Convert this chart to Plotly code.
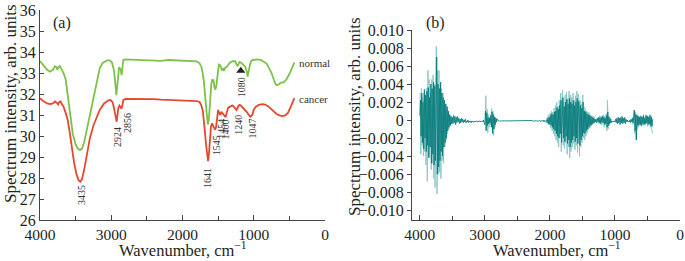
import plotly.graph_objects as go

# ---------------- Panel (a): FTIR spectra ----------------
normal_wn = [4000, 3950, 3900, 3860, 3820, 3790, 3770, 3755, 3740, 3720, 3700, 3690, 3670, 3640,
             3620, 3600, 3570, 3540, 3500, 3470, 3440, 3410, 3380, 3350, 3300, 3250, 3200, 3160,
             3120, 3060, 3020, 2990, 2960, 2940, 2928, 2918, 2905, 2890, 2875, 2865, 2856, 2845,
             2830, 2800, 2600, 2400, 2300, 2200, 2035, 1900, 1800, 1760, 1735, 1720, 1700, 1680,
             1660, 1645, 1630, 1610, 1595, 1580, 1565, 1550, 1540, 1525, 1505, 1490, 1475, 1460,
             1445, 1430, 1418, 1400, 1380, 1360, 1333, 1300, 1263, 1240, 1225, 1200, 1180, 1150,
             1120, 1100, 1085, 1070, 1050, 1030, 1000, 960, 900, 860, 820, 780, 750, 720, 690,
             670, 640, 610, 580, 540, 500, 460, 430]
normal_val = [33.57, 33.35, 33.15, 33.06, 33.15, 33.32, 33.28, 33.14, 33.28, 33.33, 33.2, 33.06,
              33.0, 32.7, 32.2, 31.6, 30.8, 30.1, 29.6, 29.4, 29.33, 29.4, 29.7, 30.2, 31.0, 31.7,
              32.6, 33.25, 33.48, 33.6, 33.6, 33.5, 33.1, 32.4, 31.95, 32.3, 33.0, 33.28, 33.2,
              33.15, 32.9, 33.2, 33.62, 33.65, 33.63, 33.62, 33.58, 33.62, 33.6, 33.58, 33.55,
              33.46, 33.3, 33.06, 32.6, 31.8, 31.0, 30.55, 30.8, 31.8, 32.5, 32.7, 32.65, 32.3,
              32.2, 32.4, 32.9, 33.4, 33.38, 33.2, 33.15, 33.2, 33.1, 33.25, 33.28, 33.38, 33.5,
              33.55, 33.57, 33.4, 33.35, 33.52, 33.5, 33.4, 33.3, 33.1, 32.83, 33.1, 33.45, 33.6,
              33.63, 33.65, 33.62, 33.55, 33.45, 33.2, 33.0, 32.7, 32.45, 32.42, 32.5, 32.55,
              32.55, 32.7, 32.95, 33.3, 33.5]

cancer_wn = [4000, 3950, 3900, 3860, 3820, 3790, 3770, 3745, 3730, 3710, 3690, 3670, 3640, 3610,
             3580, 3550, 3520, 3490, 3460, 3435, 3410, 3380, 3345, 3300, 3250, 3200, 3160, 3100,
             3040, 3010, 2980, 2960, 2940, 2924, 2912, 2900, 2885, 2870, 2856, 2845, 2830, 2800,
             2600, 2400, 2300, 2200, 2100, 2000, 1900, 1800, 1760, 1735, 1715, 1700, 1685, 1670,
             1655, 1641, 1628, 1615, 1600, 1585, 1570, 1555, 1545, 1530, 1515, 1500, 1485, 1470,
             1455, 1440, 1427, 1410, 1395, 1380, 1360, 1330, 1300, 1280, 1260, 1240, 1220, 1200,
             1180, 1160, 1130, 1100, 1070, 1047, 1020, 1000, 970, 930, 880, 840, 800, 760, 720,
             680, 640, 600, 560, 520, 480, 450, 430]
cancer_val = [31.8, 31.65, 31.55, 31.52, 31.55, 31.65, 31.6, 31.5, 31.62, 31.65, 31.5, 31.4, 31.1,
              30.75, 30.1, 29.3, 28.7, 28.2, 27.9, 27.83, 27.95, 28.4, 29.05, 29.9, 30.5, 30.95,
              31.25, 31.55, 31.7, 31.72, 31.6, 31.3, 31.0, 30.68, 31.0, 31.35, 31.45, 31.35, 31.3,
              31.45, 31.72, 31.77, 31.77, 31.76, 31.73, 31.72, 31.72, 31.70, 31.68, 31.66, 31.62,
              31.45, 31.2, 30.8, 30.2, 29.6, 29.05, 28.8, 29.2, 29.9, 30.45, 30.6, 30.5, 30.35,
              30.3, 30.4, 30.8, 31.24, 31.1, 31.0, 31.15, 31.1, 31.05, 30.95, 30.9, 31.1, 31.35,
              31.4, 31.45, 31.4, 31.3, 31.24, 31.4, 31.48, 31.45, 31.38, 31.3, 31.15, 31.0, 30.92,
              31.0, 31.25, 31.4, 31.48, 31.52, 31.5, 31.42, 31.3, 31.15, 31.05, 30.98, 30.95,
              30.98, 31.1, 31.4, 31.65, 31.8]

peak_labels = ["3435", "2924", "2856", "1641", "1545", "1454", "1400", "1240", "1047", "1080"]
peak_label_wn = [3425, 2915, 2774, 1647, 1520, 1464, 1399, 1226, 1020, 1179]
peak_label_y = [27.19, 29.97, 30.63, 27.98, 29.54, 30.33, 30.33, 30.52, 30.37, 32.32]
arrow_wn = [1182]
arrow_y = [33.11]

# ---------------- Panel (b): difference spectrum (units of 1e-3) ----------------
dark_start = 4000
dark_vals = [
    # 4000 - 3500
    0.5, 2.2, -1.8, 3.0, -2.5, 2.0, -3.2, 3.4, -2.0, 2.8, -3.5, 3.2, -2.8, 3.6, -4.2, 2.5, -3.0,
    4.0, -4.8, 3.5, -3.8, 4.2, -5.0, 3.8, -4.5, 5.0, 7.0, -6.0, 4.0, -5.2, 3.5, -4.5, 4.2, -3.5,
    3.0, -4.0, 2.5, -3.0, 2.2, -2.5, 1.8, -2.0, 1.5, -1.2, 1.0, -0.8, 0.6, -0.6, 0.4, -0.4, 0.3,
    # 3490 - 3010
    -0.4, 0.5, -0.3, 0.4, -0.5, 0.3, -0.3, 0.4, -0.2, 0.2, -0.4, 0.1, -0.3, 0.2, -0.2, 0.1, -0.3,
    0.0, -0.2, 0.1, -0.3, -0.1, -0.2, 0.0, -0.3, -0.1, -0.2, -0.1, -0.3, -0.1, -0.2, -0.15, -0.25,
    -0.1, -0.2, -0.15, -0.2, -0.1, -0.2, -0.15, -0.2, -0.1, -0.2, -0.1, -0.15, -0.1, -0.2, 0.0, -0.3,
    # 3000 - 2800
    -0.5, 1.0, -1.2, 0.8, -0.6, 0.3, -0.4, 0.2, -0.3, 0.5, -0.8, 0.9, -1.5, 0.6, -1.0, 0.3, -0.5,
    0.2, -0.2, 0.1, -0.1,
    # 2790 - 2060
    -0.1, -0.12, -0.08, -0.1, -0.11, -0.09, -0.1, -0.12, -0.1, -0.08,
    -0.1, -0.1, -0.12, -0.09, -0.1, -0.11, -0.1, -0.08, -0.1, -0.1,
    -0.12, -0.1, -0.09, -0.1, -0.1, -0.11, -0.1, -0.1, -0.09, -0.1,
    -0.1, -0.12, -0.1, -0.1, -0.08, -0.1, -0.1, -0.11, -0.1, -0.1,
    -0.1, -0.09, -0.1, -0.12, -0.1, -0.1, -0.1, -0.08, -0.1, -0.11,
    -0.1, -0.1, -0.05, -0.15, -0.1, -0.08, -0.12, -0.1, -0.05, -0.15,
    -0.1, -0.08, -0.12, -0.05, -0.15, -0.1, -0.05, -0.15, -0.1, 0.0,
    -0.2, -0.05, -0.15, 0.0,
    # 2050 - 1300
    0.0, -0.3, 0.2, -0.4, 0.3, -0.5, 0.5, -0.6, 0.7, -0.8, 0.6, -1.0, 0.9, -1.2, 1.0, -1.5, 1.4,
    -1.8, 1.2, -2.0, 1.6, -1.5, 2.2, -2.5, 1.8, 2.5, -2.0, 1.5, -2.4, 2.0, -1.8, 2.3, -2.6, 1.8,
    -2.2, 2.4, -3.0, 2.0, -2.5, 1.8, -2.2, 2.2, -1.8, 1.6, -2.4, 2.0, -2.0, 2.4, -2.6, 2.1, 1.8,
    -2.8, 1.6, -2.2, 1.3, -1.8, 2.0, -1.4, 1.0, -1.5, 0.9, -1.2, 0.7, -1.0, 0.6, -0.8, 0.5, -0.6,
    0.4, -0.5, 0.3, -0.4, 0.2, -0.3, 0.1, -0.2,
    # 1290 - 420
    0.1, -0.3, 0.2, -0.2, 0.3, -0.3, 0.2, -0.4, 0.3, -0.2, 0.4, -0.3, 0.3, -0.5, 0.2, -0.4, 0.5,
    -0.8, 0.9, -0.6, 0.3, -0.4, 0.1, -0.3, -0.1, -0.2, -0.1, -0.2, -0.1, -0.2, 0.1, -0.3, 0.2,
    -0.4, 0.3, -0.3, 0.2, -0.5, 0.3, -0.3, 0.4, -0.4, 0.2, -0.3, 0.3, -0.4, 0.1, -0.2, 0.0, -0.2,
    -0.1, -0.2, 0.0, -0.3, 0.1, -0.2, 0.2, -0.3, 0.8, 1.1, -1.2, 0.6, -2.2, 0.5, -0.6, 0.4, -0.5,
    0.3, -0.5, 0.4, -0.6, 0.3, -0.4, 0.5, -0.5, 0.2, -0.4, 0.5, -0.3, 0.4, -0.5, 0.3, -0.4, 0.5,
    -0.6, 0.3, -0.7, 0.1,
]

light_c1_start = 3995
light_c1 = [3.0, -3.8, 3.5, -2.8, 2.5, -4.0, 3.0, -3.5, 2.0, -5.0, 3.5, -6.8, 5.5, -4.0, 4.5,
            -3.0, 3.0, -5.5, 4.5, -4.8, 5.0, -6.5, 4.0, -7.5, 5.5, 8.2, -8.2, 5.5, -6.0, 5.5,
            -5.8, 4.0, -6.5, 3.5, -4.5, 3.0, -4.8, 2.0, -3.0, 1.5, -2.2, 1.2, -1.5, 0.8, -1.0,
            0.6, -0.5, 0.4, -0.3, 0.2]
light_c2_start = 2995
light_c2 = [0.5, 2.7, -1.0, 1.2, -1.4, 0.6, -0.8, 0.3, -0.5, 0.4, 1.3, -1.2, 1.0, -1.7, 0.5,
            -0.8, 0.3, -0.3, 0.1]
light_c3_start = 2055
light_c3 = [0.2, -0.3, 0.4, -0.5, 0.6, -0.4, 0.8, -0.9, 1.0, -1.2, 0.9, -1.5, 1.3, -1.8, 1.6,
            -2.2, 2.0, -2.5, 1.5, -3.0, 2.2, -2.0, 3.0, -3.5, 2.5, 3.3, -2.8, 2.0, -3.2, 2.8,
            -2.5, 3.1, -3.8, 2.4, -3.0, 3.2, -4.2, 2.8, -3.5, 2.5, -3.0, 3.0, -2.6, 2.2, -3.3,
            2.7, -2.8, 3.2, -3.6, 2.9, 2.5, -4.0, 2.2, -3.0, 1.8, -2.5, 2.8, -2.0, 1.5, -2.2,
            1.2, -1.8, 1.0, -1.4, 0.9, -1.1, 0.8, -0.9, 0.6, -0.7, 0.5, -0.5, 0.4, -0.4, 0.3,
            -0.3]
light_c4_start = 1255
light_c4 = [0.3, -0.4, 0.5, -0.3, 0.4, -0.6, 0.5, -0.4, 0.6, -0.8, 0.4, -0.5, 0.7, -1.2, 2.2,
            -1.0, 0.5, -0.6, 0.3, -0.3, 0.2]
light_c5_start = 735
light_c5 = [0.3, -0.5, 0.8, 1.1, -1.5, 0.9, -2.2, 0.7, -1.0, 0.5, -0.8, 0.4, -0.6, 0.5, -0.7,
            0.4, -0.5, 0.6, -0.6, 0.3, -0.5, 0.6, -0.4, 0.5, -0.7, 0.4, -0.5, 0.6, -0.8, 0.5,
            -1.0, -1.5]

b_yticks = [0.010, 0.008, 0.006, 0.004, 0.002, 0.0, -0.002, -0.004, -0.006, -0.008, -0.010]
b_yticktext = ["0.010", "0.008", "0.006", "0.004", "0.002", "0", "\u22120.002", "\u22120.004",
               "\u22120.006", "\u22120.008", "\u22120.010"]
x_ticks = [4000, 3000, 2000, 1000, 0]

# ---------------- build ----------------
STEP = 10
dark_x = [dark_start - STEP * i for i in range(len(dark_vals))]
dark_y = [v * 1e-3 for v in dark_vals]

light_x, light_y = [], []
for start, seg in [(light_c1_start, light_c1), (light_c2_start, light_c2),
                   (light_c3_start, light_c3), (light_c4_start, light_c4),
                   (light_c5_start, light_c5)]:
    light_x += [start - STEP * i for i in range(len(seg))] + [None]
    light_y += [v * 1e-3 for v in seg] + [None]

FONT = "Liberation Serif"
TXT = "#231f20"
AX = "#444444"
GREEN = "#7cc24a"
RED = "#e8472f"
TEAL = "#0a7d7d"
TEAL_L = "#8cc9c9"

fig = go.Figure()
fig.add_trace(go.Scatter(x=normal_wn, y=normal_val, mode="lines",
                         line=dict(color=GREEN, width=1.8), xaxis="x", yaxis="y"))
fig.add_trace(go.Scatter(x=cancer_wn, y=cancer_val, mode="lines",
                         line=dict(color=RED, width=1.8), xaxis="x", yaxis="y"))
fig.add_trace(go.Scatter(x=arrow_wn, y=arrow_y, mode="markers",
                         marker=dict(symbol="triangle-up", size=8, color="#222222"),
                         xaxis="x", yaxis="y"))
fig.add_trace(go.Scatter(x=light_x, y=light_y, mode="lines",
                         line=dict(color=TEAL_L, width=1), xaxis="x2", yaxis="y2"))
fig.add_trace(go.Scatter(x=dark_x, y=dark_y, mode="lines",
                         line=dict(color=TEAL, width=0.9), xaxis="x2", yaxis="y2"))

W, H = 685, 261


def px_x(p):
    return p / W


def px_y(p):
    return (H - p) / H


common_x = dict(showline=True, linecolor=AX, linewidth=1, showgrid=False, zeroline=False,
                automargin=False,
                ticks="inside", ticklen=5, tickcolor=AX, tickvals=x_ticks,
                ticktext=[str(v) for v in x_ticks],
                tickfont=dict(family=FONT, size=15.5, color=TXT),
                minor=dict(dtick=500, tick0=0, ticks="inside", ticklen=4, tickcolor=AX))

fig.update_layout(
    template="none",
    width=W, height=H, margin=dict(l=0, r=0, t=0, b=0, pad=0, autoexpand=False),
    paper_bgcolor="white", plot_bgcolor="white", showlegend=False,
    xaxis=dict(domain=[px_x(40), px_x(325)], range=[4000, 0], anchor="y", **common_x),
    yaxis=dict(domain=[px_y(220), px_y(10)], range=[26, 36], anchor="x", dtick=1,
               automargin=False,
               showline=True, linecolor=AX, linewidth=1, showgrid=False, zeroline=False,
               ticks="inside", ticklen=4, tickcolor=AX,
               tickfont=dict(family=FONT, size=16, color=TXT)),
    xaxis2=dict(domain=[px_x(412), px_x(680)], range=[4120, 0], anchor="y2", **common_x),
    yaxis2=dict(domain=[px_y(220), px_y(30)], range=[-0.0111, 0.010], anchor="x2",
                automargin=False,
                tickvals=b_yticks, ticktext=b_yticktext,
                showline=True, linecolor=AX, linewidth=1, showgrid=False, zeroline=False,
                ticks="outside", ticklen=4, tickcolor=AX,
                tickfont=dict(family=FONT, size=16, color=TXT)),
)


def note(text, x, y, xref, yref, size, angle=0, xanchor="center", color=TXT):
    return dict(text=text, x=x, y=y, xref=xref, yref=yref, showarrow=False,
                textangle=angle, xanchor=xanchor, yanchor="middle",
                font=dict(family=FONT, size=size, color=color))


ann = []
for t, xw, yv in zip(peak_labels, peak_label_wn, peak_label_y):
    ann.append(note(t, xw, yv, "x", "y", 10, angle=-90, color="#333333"))
ann.append(note("normal", 400, 33.49, "x", "y", 11, xanchor="left", color="#333333"))
ann.append(note("cancer", 400, 31.76, "x", "y", 11, xanchor="left", color="#333333"))
ann.append(note("(a)", px_x(62), px_y(23), "paper", "paper", 16))
ann.append(note("(b)", px_x(435), px_y(23), "paper", "paper", 16))
ann.append(note("Wavenumber, cm<sup>\u22121</sup>", px_x(183), px_y(249.5), "paper", "paper", 16.5))
ann.append(note("Wavenumber, cm<sup>\u22121</sup>", px_x(557), px_y(249.5), "paper", "paper", 16.5))
ann.append(note("Spectrum intensity, arb. units", px_x(10), px_y(104), "paper", "paper", 17,
                angle=-90))
ann.append(note("Spectrum intensity, arb. units", px_x(354), px_y(117), "paper", "paper", 17,
                angle=-90))
fig.update_layout(annotations=ann)

fig.write_html("out.html", config={"displayModeBar": False},
               post_script="document.body.style.margin='0';")
